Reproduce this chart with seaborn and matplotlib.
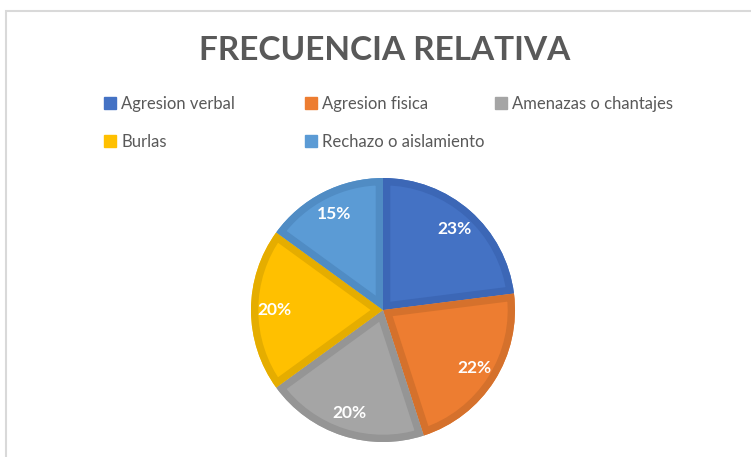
import matplotlib
matplotlib.use("Agg")
import matplotlib.pyplot as plt
import matplotlib.patches as mpatches
import seaborn as sns

# Data
categories = ["Agresion verbal", "Agresion fisica", "Amenazas o chantajes",
              "Burlas", "Rechazo o aislamiento"]
percentages = [23, 22, 20, 20, 15]
slice_colors = ["#4472C4", "#ED7D31", "#A5A5A5", "#FFC000", "#5B9BD5"]
edge_colors = ["#3C67B6", "#D5712C", "#959595", "#E5AD00", "#508CC4"]

sns.set_theme(style="white")
plt.rcParams["font.family"] = ["Lato", "DejaVu Sans"]

W, H = 751, 457
fig = plt.figure(figsize=(W / 100, H / 100), dpi=100)
fig.patch.set_facecolor("white")

# chart-area frame (top and left edge visible, rest cut off)
frame = mpatches.Rectangle((6.5 / W, -0.2), 2.0, 1.2 - 10.5 / H,
                           transform=fig.transFigure, fill=False,
                           edgecolor="#D9D9D9", linewidth=1.5)
fig.patches.append(frame)

# pie placed at centre (383, 310) with radius 132 px
cx, cy, r = 383, 310, 132
ax = fig.add_axes([(cx - r) / W, (H - cy - r) / H, 2 * r / W, 2 * r / H])
wedges, texts, autotexts = ax.pie(
    percentages, colors=slice_colors, startangle=90, counterclock=False,
    autopct="%1.0f%%", pctdistance=0.82,
    wedgeprops=dict(linewidth=0),
    textprops=dict(color="white", fontsize=12.5, fontweight="bold", zorder=5),
)
# darker inner border: an outline copy of each slice clipped to that slice
for w, ec in zip(wedges, edge_colors):
    outline = mpatches.Wedge(w.center, w.r, w.theta1, w.theta2, fill=False,
                             edgecolor=ec, linewidth=10.5, joinstyle="miter",
                             zorder=3)
    ax.add_patch(outline)
    outline.set_clip_path(w)
ax.set_xlim(-1, 1)
ax.set_ylim(-1, 1)
ax.set_aspect("equal")
ax.axis("off")

fig.text(385 / W, 1 - 50 / H, "FRECUENCIA RELATIVA", ha="center", va="center",
         fontsize=24, fontweight="bold", color="#595959")

# legend laid out in three columns like the original
handles = [mpatches.Patch(facecolor=c, edgecolor=c) for c in slice_colors]
columns = [([0, 3], 104), ([1, 4], 305), ([2], 495)]
for idx, x in columns:
    fig.legend([handles[i] for i in idx], [categories[i] for i in idx],
               loc="upper left", bbox_to_anchor=(x / W, 1 - 95.5 / H),
               frameon=False, fontsize=12, labelcolor="#595959",
               handlelength=0.7, handleheight=0.7, handletextpad=0.35,
               labelspacing=1.34, borderpad=0, borderaxespad=0)

fig.savefig("out.png", dpi=100)
